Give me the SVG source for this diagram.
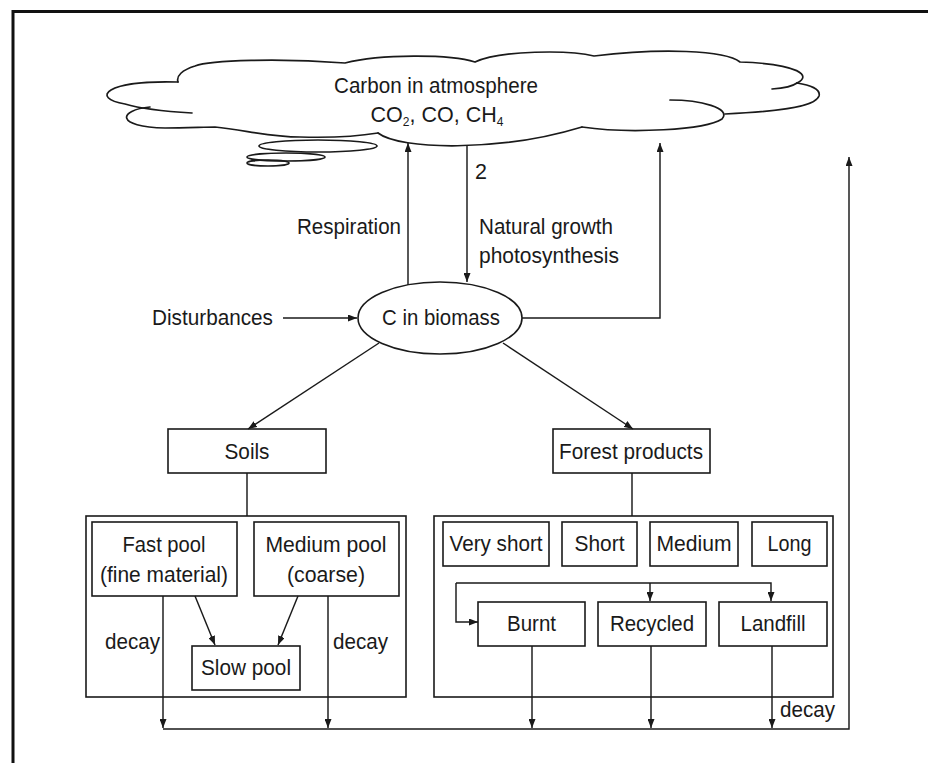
<svg xmlns="http://www.w3.org/2000/svg" width="928" height="763" viewBox="0 0 928 763">
<style>
text{font-family:"Liberation Sans",Arial,sans-serif;font-size:21.5px;fill:#1a1a1a}
.m{text-anchor:middle}
.e{text-anchor:end}
.box{fill:none;stroke:#1a1a1a;stroke-width:1.6}
.cl{fill:none;stroke:#1a1a1a;stroke-width:1.7;stroke-linecap:round}
.c{fill:none;stroke:#1a1a1a;stroke-width:1.45}
.a{marker-end:url(#ah)}
</style>
<defs>
<marker id="ah" markerUnits="userSpaceOnUse" markerWidth="9" markerHeight="7" refX="9" refY="3.5" orient="auto">
<path d="M0,0 L9,3.5 L0,7 z" fill="#1a1a1a"/>
</marker>
</defs>
<rect x="0" y="0" width="928" height="763" fill="#fff"/>
<path d="M13,763 V11.5 H928" fill="none" stroke="#111" stroke-width="3"/>

<g id="atmosphere">
<path class="cl" d="M178,82 C105,80 90,98 125,104 C145,110 175,112 192,113"/>
<path class="cl" d="M150,107 C118,110 115,127 165,128 C185,128 205,127 215,127 C245,130 270,137 300,137 C335,138 360,136 378,133"/>
<path class="cl" d="M378,133 C400,150 500,152 582,127"/>
<path class="cl" d="M582,127 C630,134 705,130 722,119 C732,108 700,100 670,100"/>
<path class="cl" d="M725,114 C770,112 815,108 819,96 C821,89 810,85 797,83"/>
<path class="cl" d="M772,89 C785,88 793,86 797,83"/>
<path class="cl" d="M797,83 C812,76 800,64 740,62 C725,50 660,48 594,56 C570,50 500,50 475,62 C450,54 380,54 345,63 C280,58 210,60 195,66 C182,70 176,76 178,82"/>
<ellipse class="cl" cx="318" cy="146" rx="59" ry="6"/>
<ellipse class="cl" cx="286" cy="157" rx="39" ry="4"/>
<ellipse class="cl" cx="268" cy="163" rx="21" ry="3"/>
<text class="m" x="436" y="93" textLength="204" lengthAdjust="spacingAndGlyphs">Carbon in atmosphere</text>
<text class="m" x="437" y="122">CO<tspan font-size="12" dy="4">2</tspan><tspan dy="-4">, CO, CH</tspan><tspan font-size="12" dy="4">4</tspan></text>
</g>

<g id="biomass">
<ellipse class="box" cx="440" cy="318" rx="82" ry="36"/>
<text class="m" x="441" y="325" textLength="118" lengthAdjust="spacingAndGlyphs">C in biomass</text>
</g>

<g id="disturbances"><text x="152" y="325" textLength="121" lengthAdjust="spacingAndGlyphs">Disturbances</text></g>

<g id="soils">
<rect class="box" x="168" y="429" width="158" height="44"/>
<text class="m" x="247" y="459" textLength="45" lengthAdjust="spacingAndGlyphs">Soils</text>
</g>

<g id="forest-products">
<rect class="box" x="553" y="429" width="157" height="44"/>
<text class="m" x="631" y="459" textLength="144" lengthAdjust="spacingAndGlyphs">Forest products</text>
</g>

<g id="soil-pools">
<rect class="box" x="86" y="516" width="320" height="181"/>
</g>
<g id="fast-pool">
<rect class="box" x="92" y="522" width="145" height="74"/>
<text class="m" x="164" y="552" textLength="83" lengthAdjust="spacingAndGlyphs">Fast pool</text>
<text class="m" x="164" y="582" textLength="128" lengthAdjust="spacingAndGlyphs">(fine material)</text>
</g>
<g id="medium-pool">
<rect class="box" x="254" y="522" width="145" height="74"/>
<text class="m" x="326" y="552" textLength="121" lengthAdjust="spacingAndGlyphs">Medium pool</text>
<text class="m" x="326" y="582" textLength="78" lengthAdjust="spacingAndGlyphs">(coarse)</text>
</g>
<g id="slow-pool">
<rect class="box" x="192" y="646" width="108" height="44"/>
<text class="m" x="246" y="675" textLength="90" lengthAdjust="spacingAndGlyphs">Slow pool</text>
</g>

<g id="product-pools">
<rect class="box" x="434" y="516" width="399" height="181"/>
</g>
<g id="very-short"><rect class="box" x="443" y="522" width="106" height="44"/><text class="m" x="496" y="551" textLength="93" lengthAdjust="spacingAndGlyphs">Very short</text></g>
<g id="short"><rect class="box" x="562" y="522" width="75" height="44"/><text class="m" x="599.5" y="551" textLength="50" lengthAdjust="spacingAndGlyphs">Short</text></g>
<g id="medium"><rect class="box" x="650" y="522" width="88" height="44"/><text class="m" x="694" y="551" textLength="75" lengthAdjust="spacingAndGlyphs">Medium</text></g>
<g id="long"><rect class="box" x="752" y="522" width="75" height="44"/><text class="m" x="789.5" y="551" textLength="44" lengthAdjust="spacingAndGlyphs">Long</text></g>
<g id="burnt"><rect class="box" x="478" y="602" width="107" height="44"/><text class="m" x="531.5" y="631" textLength="49" lengthAdjust="spacingAndGlyphs">Burnt</text></g>
<g id="recycled"><rect class="box" x="598" y="602" width="108" height="44"/><text class="m" x="652" y="631" textLength="84" lengthAdjust="spacingAndGlyphs">Recycled</text></g>
<g id="landfill"><rect class="box" x="719" y="602" width="108" height="44"/><text class="m" x="773" y="631" textLength="65" lengthAdjust="spacingAndGlyphs">Landfill</text></g>

<g id="connectors">
<path class="c a" d="M408,285 V143"/>
<path class="c a" d="M467,145 V282"/>
<path class="c a" d="M522,318 H660 V143"/>
<path class="c a" d="M283,318 H357"/>
<path class="c a" d="M379,343 L248,429"/>
<path class="c a" d="M503,343 L633,429"/>
<path class="c" d="M247,473 V516"/>
<path class="c" d="M632,473 V516"/>
<path class="c a" d="M163,596 V728"/>
<path class="c a" d="M328,596 V728"/>
<path class="c a" d="M195,596 L215,645"/>
<path class="c a" d="M298,596 L278,645"/>
<path class="c a" d="M456,583 H771 V601"/>
<path class="c a" d="M650,583 V601"/>
<path class="c a" d="M456,583 V622 H478"/>
<path class="c a" d="M532,646 V728"/>
<path class="c a" d="M651,646 V728"/>
<path class="c a" d="M772,646 V728"/>
<path class="c a" d="M163,729 H849 V157"/>
<text x="475" y="179">2</text>
<text class="e" x="401" y="234" textLength="104" lengthAdjust="spacingAndGlyphs">Respiration</text>
<text x="479" y="234" textLength="134" lengthAdjust="spacingAndGlyphs">Natural growth</text>
<text x="479" y="263" textLength="140" lengthAdjust="spacingAndGlyphs">photosynthesis</text>
<text x="105" y="649" textLength="55" lengthAdjust="spacingAndGlyphs">decay</text>
<text x="333" y="649" textLength="55" lengthAdjust="spacingAndGlyphs">decay</text>
<text x="780" y="717" textLength="55" lengthAdjust="spacingAndGlyphs">decay</text>
</g>
</svg>
